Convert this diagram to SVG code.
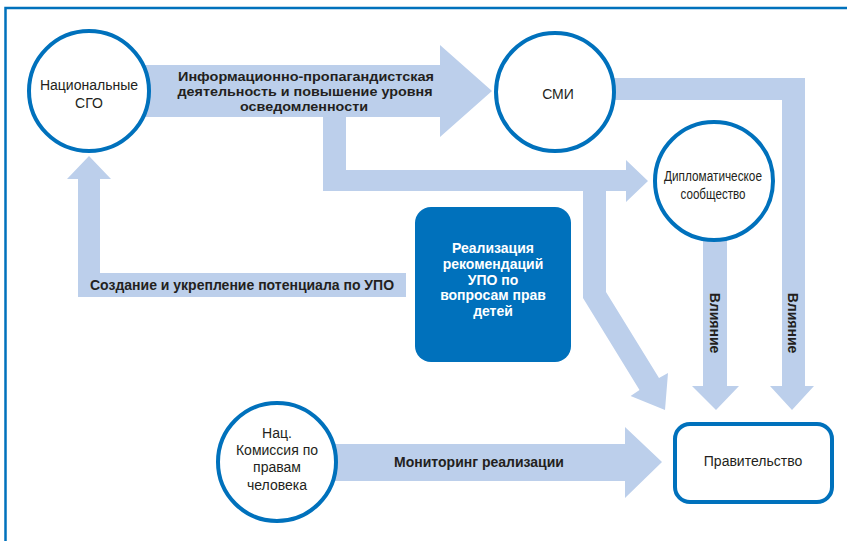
<svg xmlns="http://www.w3.org/2000/svg" width="847" height="541" viewBox="0 0 847 541">
<style>
.arr{fill:#bccfeb;stroke:none}
.node{fill:#ffffff;stroke:#0071bc;stroke-width:4}
.t{font-family:"Liberation Sans",Arial,sans-serif;font-size:14px;fill:#231f20;text-anchor:middle}
.b{font-weight:bold}
.w{fill:#ffffff}
.s{font-size:13px}
</style>
<rect x="0" y="0" width="847" height="541" fill="#ffffff"/>
<path d="M5.5,541 V8 H847" fill="none" stroke="#0071bc" stroke-width="2.5"/>
<g id="connectors">
  <polygon class="arr" points="130,65 440,65 440,45 492,91 440,137 440,117 346,117 346,170 626,170 626,160 648,181 626,202 626,191 606,191 606,292 659,378 668,373 665,410 630.6,396 639.5,390 583,298 583,191 323,191 323,117 130,117"/>
  <polygon class="arr" points="600,78 805,78 805,386 814,386 792,410 770,386 782,386 782,100 600,100"/>
  <polygon class="arr" points="703,230 727,230 727,386 739,386 716,410 692,386 703,386"/>
  <polygon class="arr" points="89,156 111,179 100,179 100,273 406,273 406,297 78,297 78,179 67,179"/>
  <polygon class="arr" points="330,444 625,444 625,427 662,462 625,498 625,481 330,481"/>
  <text class="t b s" x="306" y="81" textLength="256" lengthAdjust="spacingAndGlyphs">Информационно-пропагандистская</text>
  <text class="t b s" x="305" y="96" textLength="255" lengthAdjust="spacingAndGlyphs">деятельность и повышение уровня</text>
  <text class="t b s" x="304" y="111" textLength="128" lengthAdjust="spacingAndGlyphs">осведомленности</text>
  <text class="t b" x="242" y="290">Создание и укрепление потенциала по УПО</text>
  <text class="t b" x="479" y="467">Мониторинг реализации</text>
  <text class="t b" transform="translate(710,323) rotate(90)">Влияние</text>
  <text class="t b" transform="translate(788,323) rotate(90)">Влияние</text>
</g>
<g id="node-sgo">
  <circle class="node" cx="89" cy="91" r="60"/>
  <text class="t" x="89" y="90">Национальные</text>
  <text class="t" x="89" y="108">СГО</text>
</g>
<g id="node-smi">
  <circle class="node" cx="555" cy="92" r="59"/>
  <text class="t" x="558" y="99">СМИ</text>
</g>
<g id="node-diplo">
  <circle class="node" cx="714" cy="181" r="59"/>
  <text class="t" x="713" y="181" font-size="13" textLength="98" lengthAdjust="spacingAndGlyphs">Дипломатическое</text>
  <text class="t" x="713" y="199" font-size="13" textLength="65" lengthAdjust="spacingAndGlyphs">сообщество</text>
</g>
<g id="node-upr">
  <rect x="415" y="207" width="156" height="155" rx="16" fill="#0071bc"/>
  <text class="t b w" x="493" y="253">Реализация</text>
  <text class="t b w" x="493" y="269">рекомендаций</text>
  <text class="t b w" x="493" y="285">УПО по</text>
  <text class="t b w" x="493" y="300">вопросам прав</text>
  <text class="t b w" x="493" y="316">детей</text>
</g>
<g id="node-commission">
  <circle class="node" cx="277" cy="462" r="59"/>
  <text class="t" x="277" y="438">Нац.</text>
  <text class="t" x="277" y="455">Комиссия по</text>
  <text class="t" x="277" y="472">правам</text>
  <text class="t" x="277" y="490">человека</text>
</g>
<g id="node-gov">
  <rect x="675" y="424" width="157" height="78" rx="15" class="node"/>
  <text class="t" x="753" y="466">Правительство</text>
</g>
</svg>
